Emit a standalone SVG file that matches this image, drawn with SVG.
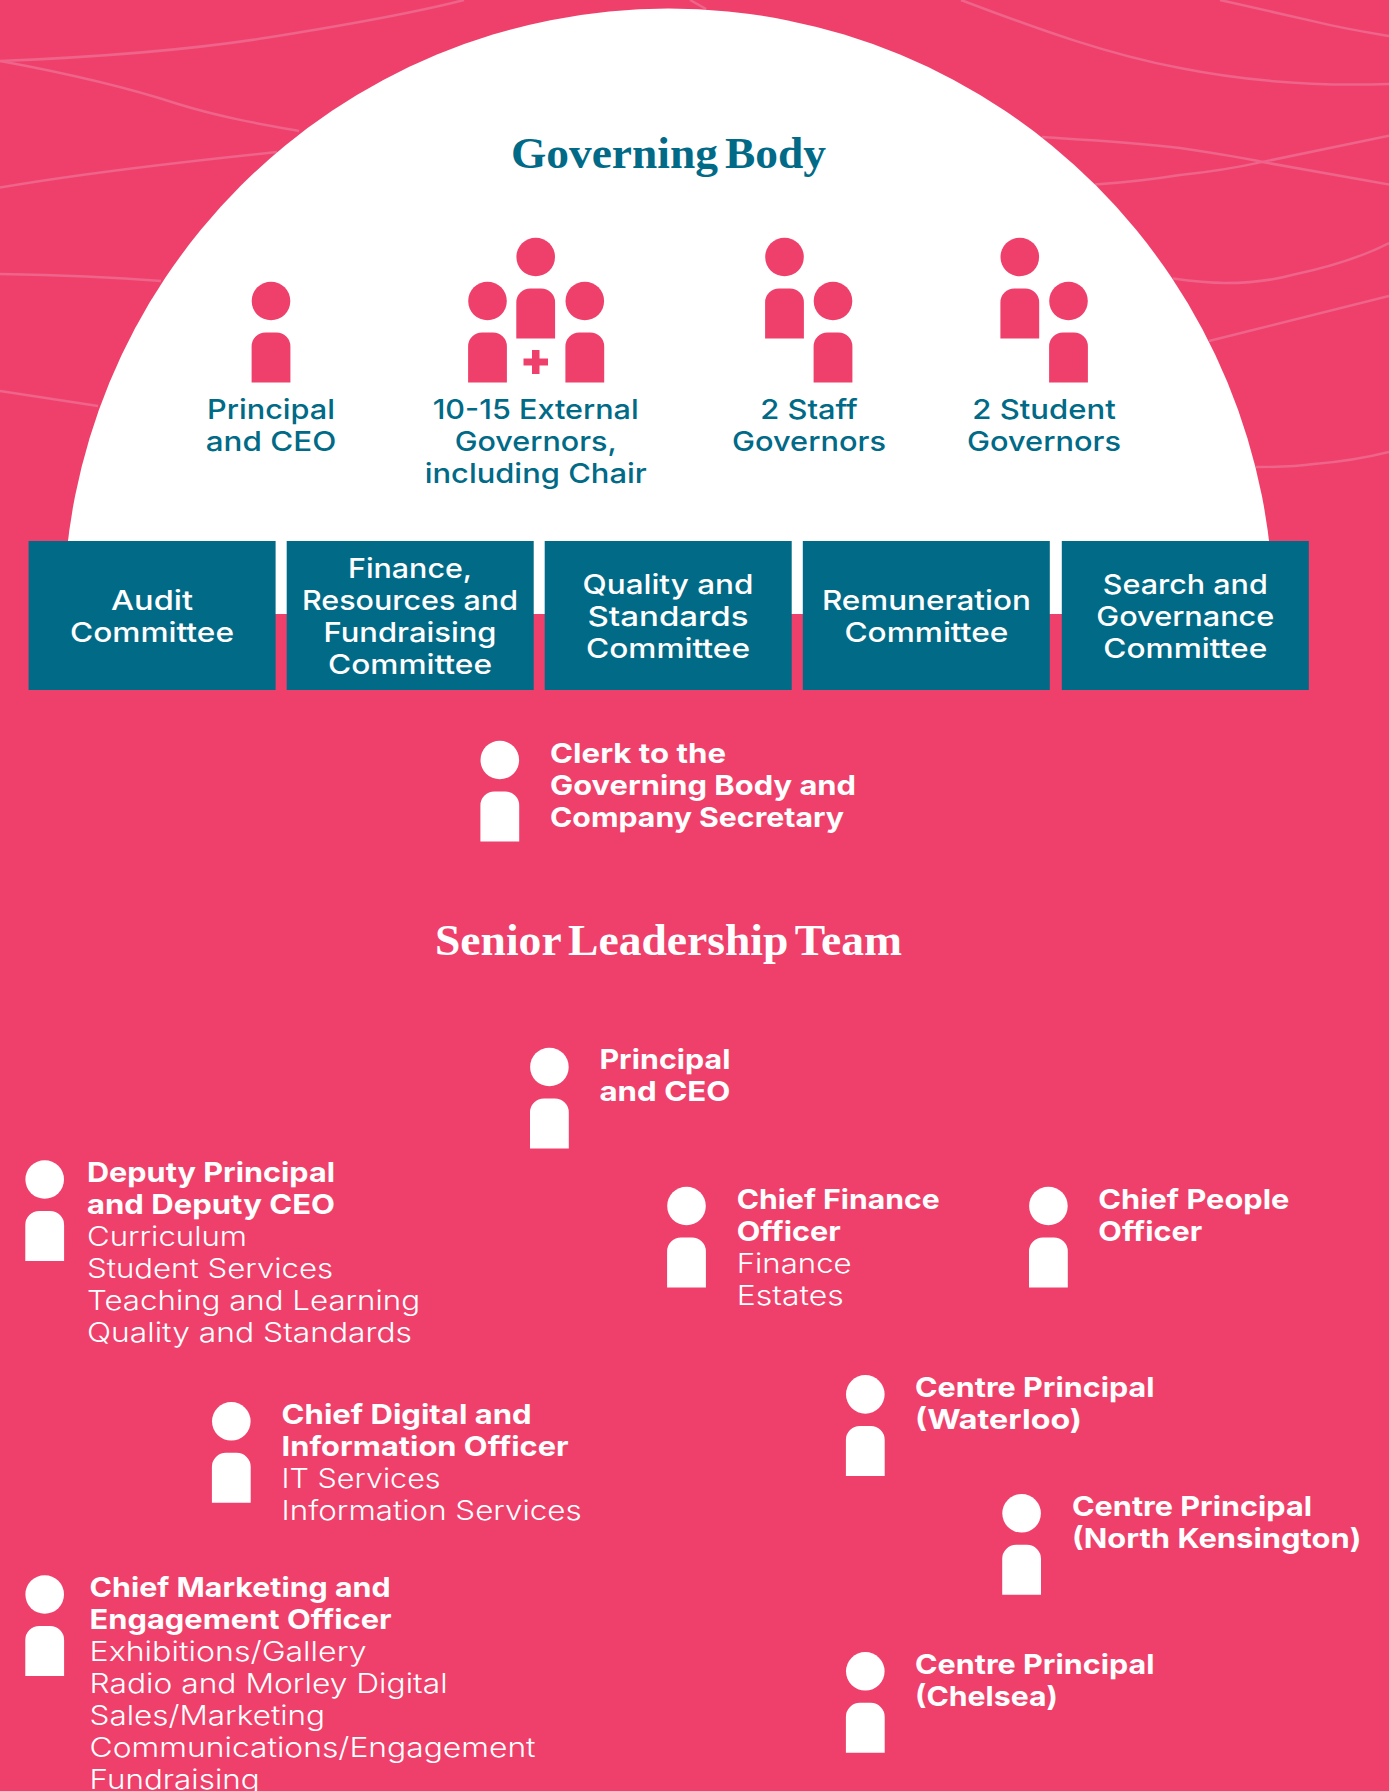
<svg xmlns="http://www.w3.org/2000/svg" width="1389" height="1791" viewBox="0 0 1389 1791">
<style>
.t{font-family:"Inter","Liberation Sans",sans-serif;font-size:27.5px}
.b{font-weight:700;fill:#fff}
.l{font-weight:300;fill:#fff}
.c{font-weight:500;fill:#fff;text-anchor:middle}
.g{font-weight:500;fill:#006a87;text-anchor:middle}
.h{font-family:"Liberation Serif",serif;font-weight:700;font-size:44px;word-spacing:-4px}
.w{fill:none;stroke:#ee648a;stroke-width:2.5}
.box{fill:#006a87}
.pk{fill:#ef406b}
.wh{fill:#fff}
</style>
<defs>
<g id="person"><circle cx="0" cy="0" r="19.3"/><path d="M-19.4 81.500V45.500a14 14 0 0 1 14-14h10.800a14 14 0 0 1 14 14V81.500z"/></g>
</defs>
<rect width="1389" height="1791" class="pk"/>
<g id="waves" class="w">
<path d="M0 61C100 57 190 50 268 37.500C340 26 410 14 464 0"/>
<path d="M0 61C60 72 120 85 178 104C220 117 260 124 299 131"/>
<path d="M0 187.500C90 172 180 162 277 152"/>
<path d="M0 274C60 275 110 277 161 281"/>
<path d="M0 391L98 406"/>
<path d="M961 0C1040 30 1110 55 1180 68C1260 84 1330 86 1389 84"/>
<path d="M1220 0L1314 21.400C1345 29 1365 32 1389 36"/>
<path d="M1042 137C1090 140 1130 142 1180 148C1220 154 1240 157 1265 162.500L1389 184.600"/>
<path d="M1095 184.600C1130 182 1155 179 1180 175C1220 171 1240 167 1265 161.400L1389 135.700"/>
<path d="M1173 278.600C1190 281 1210 283 1225 283C1250 283 1270 281 1292 275C1330 267 1360 258 1389 243"/>
<path d="M1209 341L1389 296"/>
<path d="M1256 467C1280 467 1300 466 1314 464C1340 462 1365 458 1389 452"/>
<path d="M690 0L706 9"/>
</g>
<path id="dome" class="wh" d="M63.500 614A605 605.500 0 0 1 1273.500 614z"/>
<text id="title-governing" class="h" x="511" y="168" textLength="315" lengthAdjust="spacingAndGlyphs" fill="#006a87">Governing Body</text>
<g id="node-principal" class="pk"><use href="#person" x="271" y="301"/></g>
<g class="t g" id="label-principal"><text x="271" y="418.500" textLength="128" lengthAdjust="spacingAndGlyphs">Principal</text><text x="271" y="450.500" textLength="130.500" lengthAdjust="spacingAndGlyphs">and CEO</text></g>
<g id="node-external" class="pk"><use href="#person" x="487.500" y="301"/><use href="#person" x="535.700" y="257"/><use href="#person" x="584.800" y="301"/><path d="M532 350h7.500v8.400h8.500v7.200h-8.500V374H532v-8.400h-8.500v-7.200h8.500z"/></g>
<g class="t g" id="label-external"><text x="535.700" y="418.500" textLength="206" lengthAdjust="spacingAndGlyphs">10-15 External</text><text x="535.700" y="450.500" textLength="162" lengthAdjust="spacingAndGlyphs">Governors,</text><text x="535.700" y="482.500" textLength="222" lengthAdjust="spacingAndGlyphs">including Chair</text></g>
<g id="node-staff" class="pk"><use href="#person" x="784.500" y="257"/><use href="#person" x="833" y="301"/></g>
<g class="t g" id="label-staff"><text x="809" y="418.500" textLength="97.500" lengthAdjust="spacingAndGlyphs">2 Staff</text><text x="809" y="450.500" textLength="154" lengthAdjust="spacingAndGlyphs">Governors</text></g>
<g id="node-student" class="pk"><use href="#person" x="1019.800" y="257"/><use href="#person" x="1068.500" y="301"/></g>
<g class="t g" id="label-student"><text x="1044" y="418.500" textLength="143.500" lengthAdjust="spacingAndGlyphs">2 Student</text><text x="1044" y="450.500" textLength="154" lengthAdjust="spacingAndGlyphs">Governors</text></g>
<g id="committee-audit"><rect class="box" x="28.600" y="541" width="247" height="149"/><g class="t c"><text x="152" y="609.500" textLength="82" lengthAdjust="spacingAndGlyphs">Audit</text><text x="152" y="641.500" textLength="164" lengthAdjust="spacingAndGlyphs">Committee</text></g></g>
<g id="committee-finance"><rect class="box" x="286.700" y="541" width="247" height="149"/><g class="t c"><text x="410" y="578" textLength="124" lengthAdjust="spacingAndGlyphs">Finance,</text><text x="410" y="610" textLength="216" lengthAdjust="spacingAndGlyphs">Resources and</text><text x="410" y="642" textLength="173" lengthAdjust="spacingAndGlyphs">Fundraising</text><text x="410" y="674" textLength="164" lengthAdjust="spacingAndGlyphs">Committee</text></g></g>
<g id="committee-quality"><rect class="box" x="544.700" y="541" width="247" height="149"/><g class="t c"><text x="668" y="593.500" textLength="171" lengthAdjust="spacingAndGlyphs">Quality and</text><text x="668" y="625.500" textLength="161" lengthAdjust="spacingAndGlyphs">Standards</text><text x="668" y="657.500" textLength="164" lengthAdjust="spacingAndGlyphs">Committee</text></g></g>
<g id="committee-remuneration"><rect class="box" x="802.800" y="541" width="247" height="149"/><g class="t c"><text x="926.400" y="609.500" textLength="209" lengthAdjust="spacingAndGlyphs">Remuneration</text><text x="926.400" y="641.500" textLength="164" lengthAdjust="spacingAndGlyphs">Committee</text></g></g>
<g id="committee-search"><rect class="box" x="1061.800" y="541" width="247" height="149"/><g class="t c"><text x="1185.300" y="593.500" textLength="165" lengthAdjust="spacingAndGlyphs">Search and</text><text x="1185.300" y="625.500" textLength="178" lengthAdjust="spacingAndGlyphs">Governance</text><text x="1185.300" y="657.500" textLength="164" lengthAdjust="spacingAndGlyphs">Committee</text></g></g>
<g id="node-clerk" class="wh"><use href="#person" x="499.800" y="760"/><g class="t b"><text x="550" y="763.300" textLength="176" lengthAdjust="spacingAndGlyphs">Clerk to the</text><text x="550" y="795.300" textLength="306" lengthAdjust="spacingAndGlyphs">Governing Body and</text><text x="550" y="827.300" textLength="294" lengthAdjust="spacingAndGlyphs">Company Secretary</text></g></g>
<text id="title-slt" class="h" x="435" y="955" textLength="467" lengthAdjust="spacingAndGlyphs" fill="#fff">Senior Leadership Team</text>
<g id="node-slt-principal" class="wh"><use href="#person" x="549.400" y="1067"/><g class="t b"><text x="599.400" y="1069.300" textLength="131" lengthAdjust="spacingAndGlyphs">Principal</text><text x="599.400" y="1101.300" textLength="131" lengthAdjust="spacingAndGlyphs">and CEO</text></g></g>
<g id="node-deputy" class="wh"><use href="#person" x="44.700" y="1179.500"/><g class="t b"><text x="87" y="1182" textLength="248" lengthAdjust="spacingAndGlyphs">Deputy Principal</text><text x="87" y="1214" textLength="248" lengthAdjust="spacingAndGlyphs">and Deputy CEO</text></g><g class="t l"><text x="87" y="1246" textLength="160" lengthAdjust="spacingAndGlyphs">Curriculum</text><text x="87" y="1278" textLength="246" lengthAdjust="spacingAndGlyphs">Student Services</text><text x="87" y="1310" textLength="333" lengthAdjust="spacingAndGlyphs">Teaching and Learning</text><text x="87" y="1342" textLength="325" lengthAdjust="spacingAndGlyphs">Quality and Standards</text></g></g>
<g id="node-cfo" class="wh"><use href="#person" x="686.500" y="1206"/><g class="t b"><text x="736.700" y="1209.300" textLength="203" lengthAdjust="spacingAndGlyphs">Chief Finance</text><text x="736.700" y="1241.300" textLength="104" lengthAdjust="spacingAndGlyphs">Officer</text></g><g class="t l"><text x="736.700" y="1273.300" textLength="115" lengthAdjust="spacingAndGlyphs">Finance</text><text x="736.700" y="1305.300" textLength="107" lengthAdjust="spacingAndGlyphs">Estates</text></g></g>
<g id="node-people" class="wh"><use href="#person" x="1048.400" y="1206"/><g class="t b"><text x="1098.300" y="1209.300" textLength="191" lengthAdjust="spacingAndGlyphs">Chief People</text><text x="1098.300" y="1241.300" textLength="104" lengthAdjust="spacingAndGlyphs">Officer</text></g></g>
<g id="node-digital" class="wh"><use href="#person" x="231.300" y="1421.300"/><g class="t b"><text x="281.600" y="1424.200" textLength="250" lengthAdjust="spacingAndGlyphs">Chief Digital and</text><text x="281.600" y="1456.200" textLength="287" lengthAdjust="spacingAndGlyphs">Information Officer</text></g><g class="t l"><text x="281.600" y="1488.200" textLength="159" lengthAdjust="spacingAndGlyphs">IT Services</text><text x="281.600" y="1520.200" textLength="300" lengthAdjust="spacingAndGlyphs">Information Services</text></g></g>
<g id="node-waterloo" class="wh"><use href="#person" x="865.300" y="1394.400"/><g class="t b"><text x="915" y="1396.600" textLength="239.500" lengthAdjust="spacingAndGlyphs">Centre Principal</text><text x="915" y="1428.600" textLength="167" lengthAdjust="spacingAndGlyphs">(Waterloo)</text></g></g>
<g id="node-kensington" class="wh"><use href="#person" x="1021.600" y="1513.300"/><g class="t b"><text x="1072" y="1516" textLength="240" lengthAdjust="spacingAndGlyphs">Centre Principal</text><text x="1072" y="1548" textLength="289.500" lengthAdjust="spacingAndGlyphs">(North Kensington)</text></g></g>
<g id="node-chelsea" class="wh"><use href="#person" x="865.300" y="1671.300"/><g class="t b"><text x="915" y="1673.500" textLength="239.500" lengthAdjust="spacingAndGlyphs">Centre Principal</text><text x="915" y="1705.500" textLength="143" lengthAdjust="spacingAndGlyphs">(Chelsea)</text></g></g>
<g id="node-marketing" class="wh"><use href="#person" x="44.700" y="1594.500"/><g class="t b"><text x="89.600" y="1597" textLength="301" lengthAdjust="spacingAndGlyphs">Chief Marketing and</text><text x="89.600" y="1629" textLength="302" lengthAdjust="spacingAndGlyphs">Engagement Officer</text></g><g class="t l"><text x="89.600" y="1661" textLength="277" lengthAdjust="spacingAndGlyphs">Exhibitions/Gallery</text><text x="89.600" y="1693" textLength="358" lengthAdjust="spacingAndGlyphs">Radio and Morley Digital</text><text x="89.600" y="1725" textLength="235.500" lengthAdjust="spacingAndGlyphs">Sales/Marketing</text><text x="89.600" y="1757" textLength="446" lengthAdjust="spacingAndGlyphs">Communications/Engagement</text><text x="89.600" y="1789" textLength="170" lengthAdjust="spacingAndGlyphs">Fundraising</text></g></g>
</svg>
